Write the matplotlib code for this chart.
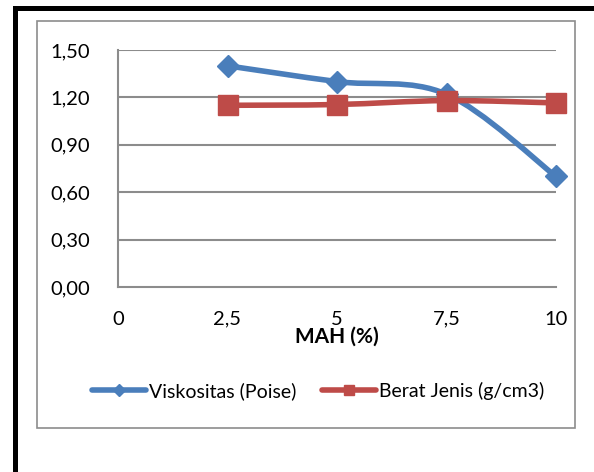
import matplotlib
matplotlib.use("Agg")
from matplotlib import pyplot as plt
from matplotlib.lines import Line2D
from matplotlib.patches import Rectangle, PathPatch
from matplotlib.path import Path
import numpy as np

mah = [2.5, 5, 7.5, 10]
viskositas = [1.40, 1.30, 1.22, 0.70]
berat_jenis = [1.15, 1.155, 1.18, 1.165]
y_ticks = [0.0, 0.3, 0.6, 0.9, 1.2, 1.5]
y_labels = ["0,00", "0,30", "0,60", "0,90", "1,20", "1,50"]
x_ticks = [0, 2.5, 5, 7.5, 10]
x_labels = ["0", "2,5", "5", "7,5", "10"]

blue = "#4A7EBB"
red = "#BE4B48"
grid = "#8C8C8C"

plt.rcParams['font.family'] = ['Lato', 'DejaVu Sans']

W, H = 594, 472
fig = plt.figure(figsize=(W / 100, H / 100), dpi=100)


def px(x, y):
    return x / W, 1 - y / H


# outer black frame (left and top only)
fig.add_artist(Line2D([15 / W, 15 / W], [0, 1 - 8 / H], color="black", lw=3.6,
                      transform=fig.transFigure, solid_capstyle="projecting"))
fig.add_artist(Line2D([15 / W, 1], [1 - 8 / H, 1 - 8 / H], color="black", lw=3.6,
                      transform=fig.transFigure, solid_capstyle="projecting"))
# inner chart area border
fig.add_artist(Rectangle(px(37, 428), (575 - 37) / W, (428 - 21) / H, fill=False,
                         edgecolor="#8C8C8C", lw=1.2, transform=fig.transFigure))

l, b = px(118, 287)
ax = fig.add_axes([l, b, (556 - 118) / W, (287 - 50) / H])
ax.set_xlim(0, 10)
ax.set_ylim(0, 1.5)
ax.set_yticks(y_ticks)
ax.set_yticklabels(y_labels)
ax.set_xticks(x_ticks)
ax.set_xticklabels(x_labels)
ax.tick_params(length=0, labelsize=14.5, pad=17)
ax.tick_params(axis="y", pad=20)
for s in ["top", "right"]:
    ax.spines[s].set_visible(False)
for s in ["left", "bottom"]:
    ax.spines[s].set_color(grid)
    ax.spines[s].set_linewidth(1.5)
for yv in y_ticks[1:]:
    ax.axhline(yv, color=grid, lw=1.5, zorder=0)
ax.set_xlabel("MAH (%)", fontsize=15, fontweight="bold", labelpad=-1)


def smooth_path(xs, ys):
    # Excel-style smoothed line through the points (cubic bezier segments)
    pts = np.column_stack([xs, ys])
    verts = [pts[0]]
    codes = [Path.MOVETO]
    n = len(pts)
    for i in range(n - 1):
        p0 = pts[i - 1] if i > 0 else pts[i]
        p1 = pts[i]
        p2 = pts[i + 1]
        p3 = pts[i + 2] if i + 2 < n else pts[i + 1]
        c1 = p1 + (p2 - p0) / 6
        c2 = p2 - (p3 - p1) / 6
        verts += [c1, c2, p2]
        codes += [Path.CURVE4] * 3
    return Path(verts, codes)


ax.add_patch(PathPatch(smooth_path(mah, viskositas), fill=False, edgecolor=blue,
                       lw=4, capstyle="round", zorder=3))
ax.add_patch(PathPatch(smooth_path(mah, berat_jenis), fill=False, edgecolor=red,
                       lw=4, capstyle="round", zorder=4))
ax.plot(mah, viskositas, linestyle="none", marker="D", ms=11, color=blue, zorder=5,
        clip_on=False)
ax.plot(mah, berat_jenis, linestyle="none", marker="s", ms=14, color=red, zorder=6,
        clip_on=False)

handles = [Line2D([], [], color=blue, lw=4, marker="D", ms=6, solid_capstyle="round"),
           Line2D([], [], color=red, lw=4, marker="s", ms=7, solid_capstyle="round")]
fig.legend(handles, ["Viskositas (Poise)", "Berat Jenis (g/cm3)"],
           loc="center", bbox_to_anchor=px(318, 391), ncol=2, frameon=False,
           fontsize=14, handlelength=2.8, handletextpad=0.15, columnspacing=1.3)

fig.savefig("out.png", dpi=100)
